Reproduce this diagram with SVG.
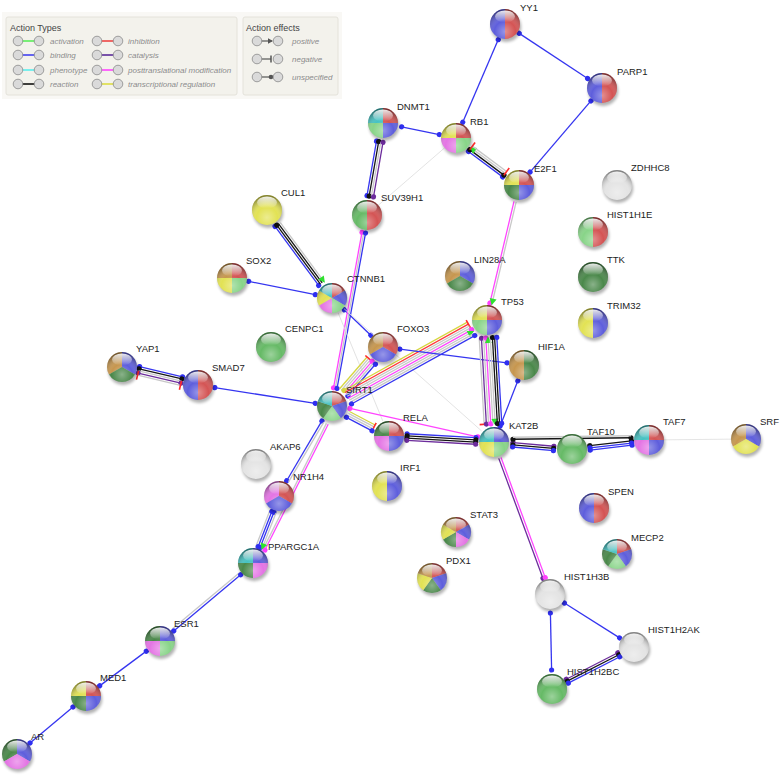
<svg xmlns="http://www.w3.org/2000/svg" xmlns:xlink="http://www.w3.org/1999/xlink" width="780" height="775" viewBox="0 0 780 775">
<style>
.e line{stroke-width:1.3;fill:none}
.b{stroke:#3535f0;marker-start:url(#dB);marker-end:url(#dB)}
.k{stroke:#151515;marker-start:url(#dK);marker-end:url(#dK)}
.p{stroke:#6c2c9c;marker-start:url(#dP);marker-end:url(#dP)}
.m{stroke:#ff45ff;marker-start:url(#dM);marker-end:url(#dM)}
.y{stroke:#d6d640}
.r{stroke:#ff3a3a}
.g{stroke:#c8c8c8}
.e line.f{stroke:#dedede;stroke-width:.8}
.cR{fill:#d45454}.cB{fill:#5e5edc}.cLG{fill:#88d488}.cDG{fill:#4a884a}.cY{fill:#e2e254}
.cT{fill:#46c2c2}.cM{fill:#e474e4}.cN{fill:#c6964e}.cW{fill:#e4e4e4}.cG{fill:#66ba66}
.lbl{font-family:"Liberation Sans",Arial,sans-serif;font-size:9.5px;fill:#222}
.lh{font-family:"Liberation Sans",Arial,sans-serif;font-size:9px;fill:#444}
.li{font-family:"Liberation Sans",Arial,sans-serif;font-size:8px;font-style:italic;fill:#8c8c8c}
.ic{fill:#dadada;stroke:#8a8a8a;stroke-width:.8}
</style>
<defs>
<filter id="blur" x="-50%" y="-50%" width="200%" height="200%"><feGaussianBlur stdDeviation="1.4"/></filter>
<radialGradient id="shade" cx="50%" cy="75%" r="70%">
<stop offset="0" stop-color="#fff" stop-opacity=".35"/>
<stop offset=".5" stop-color="#fff" stop-opacity="0"/>
<stop offset="1" stop-color="#000" stop-opacity=".42"/>
</radialGradient>
<linearGradient id="hl" x1="0" y1="0" x2="0" y2="1">
<stop offset="0" stop-color="#fff" stop-opacity=".9"/>
<stop offset="1" stop-color="#fff" stop-opacity="0"/>
</linearGradient>
<circle id="sh" cx="1.2" cy="3" r="15" fill="#000" opacity=".3" filter="url(#blur)"/>
<g id="gl"><circle r="15" fill="url(#shade)"/><ellipse cx="0" cy="-7.5" rx="10" ry="6" fill="url(#hl)"/></g>
<circle id="c" r="15"/>
<path id="hL" d="M0,0L0,-15A15,15 0 0 0 0,15Z"/>
<path id="hR" d="M0,0L0,-15A15,15 0 0 1 0,15Z"/>
<path id="qTL" d="M0,0L0,-15A15,15 0 0 0 -15,0Z"/>
<path id="qTR" d="M0,0L0,-15A15,15 0 0 1 15,0Z"/>
<path id="qBR" d="M0,0L15,0A15,15 0 0 1 0,15Z"/>
<path id="qBL" d="M0,0L0,15A15,15 0 0 1 -15,0Z"/>
<path id="t1" d="M0,0L0,-15A15,15 0 0 1 12.99,7.5Z"/>
<path id="t2" d="M0,0L12.99,7.5A15,15 0 0 1 -12.99,7.5Z"/>
<path id="t3" d="M0,0L-12.99,7.5A15,15 0 0 1 0,-15Z"/>
<path id="f1" d="M0,0L0,-15A15,15 0 0 1 14.27,-4.64Z"/>
<path id="f2" d="M0,0L14.27,-4.64A15,15 0 0 1 8.82,12.14Z"/>
<path id="f3" d="M0,0L8.82,12.14A15,15 0 0 1 -8.82,12.14Z"/>
<path id="f4" d="M0,0L-8.82,12.14A15,15 0 0 1 -14.27,-4.64Z"/>
<path id="f5" d="M0,0L-14.27,-4.64A15,15 0 0 1 0,-15Z"/>
<path id="s1" d="M0,0L0,-15A15,15 0 0 1 12.99,-7.5Z"/>
<path id="s2" d="M0,0L12.99,-7.5A15,15 0 0 1 12.99,7.5Z"/>
<path id="s3" d="M0,0L12.99,7.5A15,15 0 0 1 0,15Z"/>
<path id="s4" d="M0,0L0,15A15,15 0 0 1 -12.99,7.5Z"/>
<path id="s5" d="M0,0L-12.99,7.5A15,15 0 0 1 -12.99,-7.5Z"/>
<path id="s6" d="M0,0L-12.99,-7.5A15,15 0 0 1 0,-15Z"/>
<marker id="dB" viewBox="-3 -3 6 6" markerWidth="6" markerHeight="6" markerUnits="userSpaceOnUse"><circle r="2.6" fill="#2f2ff0"/></marker>
<marker id="dK" viewBox="-3 -3 6 6" markerWidth="6" markerHeight="6" markerUnits="userSpaceOnUse"><circle r="2.6" fill="#111"/></marker>
<marker id="dP" viewBox="-3 -3 6 6" markerWidth="6" markerHeight="6" markerUnits="userSpaceOnUse"><circle r="2.6" fill="#6c2c9c"/></marker>
<marker id="dM" viewBox="-3 -3 6 6" markerWidth="6" markerHeight="6" markerUnits="userSpaceOnUse"><circle r="2.6" fill="#ff40ff"/></marker>
<marker id="dY" viewBox="-3 -3 6 6" markerWidth="6" markerHeight="6" markerUnits="userSpaceOnUse"><circle r="2.6" fill="#d6d640"/></marker>
<marker id="arG" viewBox="-6 -4 8 8" markerWidth="8" markerHeight="8" markerUnits="userSpaceOnUse" orient="auto-start-reverse"><path d="M-5,-3.5L1.5,0L-5,3.5Z" fill="#2fe02f"/></marker>
<marker id="brR" viewBox="-2 -5 4 10" markerWidth="4" markerHeight="10" markerUnits="userSpaceOnUse" orient="auto"><path d="M0,-4.5V4.5" stroke="#ff2a2a" stroke-width="1.6"/></marker>
<marker id="arK" viewBox="-6 -4 8 8" markerWidth="8" markerHeight="8" markerUnits="userSpaceOnUse" orient="auto"><path d="M-4,-2.8L1,0L-4,2.8Z" fill="#555"/></marker>
<marker id="brK" viewBox="-2 -5 4 10" markerWidth="4" markerHeight="10" markerUnits="userSpaceOnUse" orient="auto"><path d="M0,-3.5V3.5" stroke="#555" stroke-width="1.5"/></marker>
<marker id="dL" viewBox="-3 -3 6 6" markerWidth="6" markerHeight="6" markerUnits="userSpaceOnUse"><circle r="2.3" fill="#555"/></marker>
</defs>

<g id="legend">
<rect x="2" y="12" width="340" height="87" fill="#f9f8f5"/>
<rect x="6" y="17" width="231" height="78" rx="2" fill="#f3f2ec" stroke="#e4e2da"/>
<rect x="243" y="17" width="95" height="78" rx="2" fill="#f3f2ec" stroke="#e4e2da"/>
<text class="lh" x="10" y="31">Action Types</text>
<text class="lh" x="246" y="31">Action effects</text>
<g stroke-width="1.6">
<line x1="22" y1="41" x2="35" y2="41" stroke="#5aee5a"/>
<line x1="22" y1="55" x2="35" y2="55" stroke="#4040f0"/>
<line x1="22" y1="70" x2="35" y2="70" stroke="#5aeeee"/>
<line x1="22" y1="84" x2="35" y2="84" stroke="#111"/>
<line x1="101" y1="41" x2="114" y2="41" stroke="#ee4444"/>
<line x1="101" y1="55" x2="114" y2="55" stroke="#5a2a9a"/>
<line x1="101" y1="70" x2="114" y2="70" stroke="#ff44ff"/>
<line x1="101" y1="84" x2="114" y2="84" stroke="#dddd44"/>
</g>
<g class="ic">
<circle cx="18" cy="41" r="4.8"/><circle cx="39" cy="41" r="4.8"/>
<circle cx="18" cy="55" r="4.8"/><circle cx="39" cy="55" r="4.8"/>
<circle cx="18" cy="70" r="4.8"/><circle cx="39" cy="70" r="4.8"/>
<circle cx="18" cy="84" r="4.8"/><circle cx="39" cy="84" r="4.8"/>
<circle cx="97" cy="41" r="4.8"/><circle cx="118" cy="41" r="4.8"/>
<circle cx="97" cy="55" r="4.8"/><circle cx="118" cy="55" r="4.8"/>
<circle cx="97" cy="70" r="4.8"/><circle cx="118" cy="70" r="4.8"/>
<circle cx="97" cy="84" r="4.8"/><circle cx="118" cy="84" r="4.8"/>
</g>
<g stroke="#555" stroke-width="1.2">
<line x1="261" y1="41" x2="272" y2="41" marker-end="url(#arK)"/>
<line x1="261" y1="59" x2="271" y2="59" marker-end="url(#brK)"/>
<line x1="261" y1="77" x2="271" y2="77" marker-end="url(#dL)"/>
</g>
<g class="ic">
<circle cx="257" cy="41" r="4.8"/><circle cx="278" cy="41" r="4.8"/>
<circle cx="257" cy="59" r="4.8"/><circle cx="278" cy="59" r="4.8"/>
<circle cx="257" cy="77" r="4.8"/><circle cx="278" cy="77" r="4.8"/>
</g>
<text class="li" x="50" y="44">activation</text>
<text class="li" x="50" y="58">binding</text>
<text class="li" x="50" y="73">phenotype</text>
<text class="li" x="50" y="87">reaction</text>
<text class="li" x="128" y="44">inhibition</text>
<text class="li" x="128" y="58">catalysis</text>
<text class="li" x="128" y="73">posttranslational modification</text>
<text class="li" x="128" y="87">transcriptional regulation</text>
<text class="li" x="292" y="44">positive</text>
<text class="li" x="292" y="62">negative</text>
<text class="li" x="292" y="80">unspecified</text>
</g>

<g id="edges" class="e">
<g transform="translate(505,24) rotate(113.26)"><line class="b" x1="17" x2="107"/></g>
<g transform="translate(505,24) rotate(33.42)"><line class="b" x1="17" x2="99"/></g>
<g transform="translate(602,88) rotate(130.55)"><line class="b" x1="17" x2="110.7"/></g>
<g transform="translate(383,123) rotate(11.61)"><line class="b" x1="19" x2="57.5"/></g>
<g transform="translate(383,123) rotate(99.87)">
<line class="b" x1="19" x2="74.4" y1="3.3" y2="3.3"/>
<line class="k" x1="19" x2="74.4" y1="1.1" y2="1.1"/>
<line class="g" x1="19" x2="74.4" y1="-1.1" y2="-1.1"/>
<line class="p" x1="19" x2="74.4" y1="-3.3" y2="-3.3"/>
</g>
<g transform="translate(456,138) rotate(36.72)">
<line class="b" x1="18" x2="60.6" y1="3.3" y2="3.3"/>
<line class="k" x1="18" x2="60.6" y1="1.1" y2="1.1"/>
<line class="g" x1="18" x2="60.6" y1="-1.1" y2="-1.1" style="marker-start:url(#arG)"/>
<line class="g" x1="18" x2="60.6" y1="-3.3" y2="-3.3" style="marker-start:url(#brR);marker-end:url(#brR)"/>
</g>
<g transform="translate(456,138) rotate(139.13)"><line class="f" x1="15" x2="102.7"/></g>
<g transform="translate(519,185) rotate(103.33)">
<line class="m" x1="17" x2="121.7" y1="1.1" y2="1.1" style="marker-start:none"/>
<line class="g" x1="17" x2="121.7" y1="-1.1" y2="-1.1" style="marker-end:url(#arG)"/>
</g>
<g transform="translate(267,210) rotate(53.55)">
<line class="b" x1="18" x2="91.4" y1="3.3" y2="3.3"/>
<line class="k" x1="18" x2="91.4" y1="1.1" y2="1.1" style="marker-end:none"/>
<line class="k" x1="18" x2="91.4" y1="-1.1" y2="-1.1" style="marker-start:none;marker-end:none"/>
<line class="g" x1="18" x2="91.4" y1="-3.3" y2="-3.3" style="marker-end:url(#arG)"/>
</g>
<g transform="translate(232,278) rotate(11.31)"><line class="b" x1="17" x2="85"/></g>
<g transform="translate(332,298) rotate(43.85)"><line class="b" x1="17" x2="53.7"/></g>
<g transform="translate(367,215) rotate(100.38)">
<line class="m" x1="18" x2="176" y1="1.8" y2="1.8"/>
<line class="g" x1="18" x2="176" y1="0" y2="0"/>
<line class="b" x1="18" x2="176" y1="-1.8" y2="-1.8"/>
</g>
<g transform="translate(332,298) rotate(67.56)"><line class="f" x1="16" x2="133"/></g>
<g transform="translate(332,298) rotate(41.63)"><line class="f" x1="16" x2="200"/></g>
<g transform="translate(122,367) rotate(13.32)">
<line class="b" x1="17" x2="61.1" y1="-4.4" y2="-4.4"/>
<line class="k" x1="17" x2="61.1" y1="-2.2" y2="-2.2"/>
<line class="g" x1="17" x2="61.1" y1="0" y2="0"/>
<line class="p" x1="17" x2="61.1" y1="2.2" y2="2.2"/>
<line class="g" x1="17" x2="61.1" y1="4.4" y2="4.4" style="marker-start:url(#brR);marker-end:url(#brR)"/>
</g>
<g transform="translate(198,385) rotate(8.91)"><line class="b" x1="17" x2="118.6"/></g>
<g transform="translate(332,406) rotate(-49.16)">
<line class="y" x1="18" x2="60" y1="-5.5" y2="-5.5"/>
<line class="g" x1="18" x2="60" y1="-3.3" y2="-3.3" style="marker-end:url(#brR)"/>
<line class="g" x1="18" x2="60" y1="-1.1" y2="-1.1"/>
<line class="m" x1="18" x2="60" y1="1.1" y2="1.1" style="marker-start:none"/>
<line class="g" x1="18" x2="60" y1="3.3" y2="3.3"/>
<line class="b" x1="18" x2="60" y1="5.5" y2="5.5"/>
</g>
<g transform="translate(332,406) rotate(-29.02)">
<line class="y" x1="18" x2="159" y1="-7.7" y2="-7.7" style="marker-start:url(#dY)"/>
<line class="r" x1="18" x2="159" y1="-5.5" y2="-5.5" style="marker-end:url(#brR)"/>
<line class="g" x1="18" x2="159" y1="-3.3" y2="-3.3"/>
<line class="g" x1="18" x2="159" y1="-1.1" y2="-1.1"/>
<line class="m" x1="18" x2="159" y1="1.1" y2="1.1" style="marker-start:none"/>
<line class="g" x1="18" x2="159" y1="3.3" y2="3.3" style="marker-end:url(#arG)"/>
<line class="g" x1="18" x2="159" y1="5.5" y2="5.5"/>
<line class="b" x1="18" x2="159" y1="7.7" y2="7.7"/>
</g>
<g transform="translate(332,406) rotate(27.76)">
<line class="y" x1="18" x2="47" y1="-3.3" y2="-3.3"/>
<line class="g" x1="18" x2="47" y1="-1.1" y2="-1.1" style="marker-end:url(#brR)"/>
<line class="g" x1="18" x2="47" y1="1.1" y2="1.1"/>
<line class="b" x1="18" x2="47" y1="3.3" y2="3.3"/>
</g>
<g transform="translate(332,406) rotate(12.53)"><line class="m" x1="18" x2="149" y1="-1.5" y2="-1.5"/></g>
<g transform="translate(389,436) rotate(3.27)">
<line class="b" x1="18" x2="87" y1="-3.3" y2="-3.3"/>
<line class="k" x1="18" x2="87" y1="-1.1" y2="-1.1"/>
<line class="k" x1="18" x2="87" y1="1.1" y2="1.1"/>
<line class="p" x1="18" x2="87" y1="3.3" y2="3.3"/>
</g>
<g transform="translate(383,347) rotate(7.27)"><line class="b" x1="17" x2="125"/></g>
<g transform="translate(524,365) rotate(111.29)"><line class="b" x1="17" x2="65.6"/></g>
<g transform="translate(487,320) rotate(86.72)">
<line class="g" x1="18" x2="104" y1="8.8" y2="8.8" style="marker-end:url(#brR)"/>
<line class="p" x1="18" x2="104" y1="6.6" y2="6.6"/>
<line class="g" x1="18" x2="104" y1="4.4" y2="4.4"/>
<line class="m" x1="18" x2="104" y1="2.2" y2="2.2"/>
<line class="g" x1="18" x2="104" y1="0" y2="0" style="marker-start:url(#arG)"/>
<line class="g" x1="18" x2="104" y1="-2.2" y2="-2.2" style="marker-end:url(#arG)"/>
<line class="k" x1="18" x2="104" y1="-4.4" y2="-4.4"/>
<line class="k" x1="18" x2="104" y1="-6.6" y2="-6.6" style="marker-start:none;marker-end:none"/>
<line class="b" x1="18" x2="104" y1="-8.8" y2="-8.8"/>
</g>
<g transform="translate(494,442) rotate(5.13)">
<line class="p" x1="19" x2="60" y1="-1.1" y2="-1.1"/>
<line class="k" x1="19" x2="60" y1="1.1" y2="1.1"/>
<line class="b" x1="19" x2="60" y1="3.3" y2="3.3"/>
</g>
<g transform="translate(494,442) rotate(-0.74)">
<line class="k" x1="19" x2="137" y1="-2.5" y2="-2.5"/>
<line class="g" x1="19" x2="137" y1="-4.5" y2="-4.5"/>
</g>
<g transform="translate(572,449) rotate(-6.67)">
<line class="k" x1="18" x2="60" y1="-1.2" y2="-1.2"/>
<line class="b" x1="18" x2="60" y1="1" y2="1"/>
<line class="b" x1="18" x2="60" y1="3.2" y2="3.2"/>
</g>
<g transform="translate(649,440) rotate(-0.59)"><line class="f" x1="15" x2="82"/></g>
<g transform="translate(494,442) rotate(69.77)">
<line class="p" x1="17" x2="145" y1="1.2" y2="1.2" style="marker-start:none"/>
<line class="m" x1="17" x2="145" y1="-1.2" y2="-1.2" style="marker-start:none"/>
</g>
<g transform="translate(550,594) rotate(32.25)"><line class="b" x1="17" x2="82.3"/></g>
<g transform="translate(550,594) rotate(88.79)"><line class="b" x1="19" x2="76"/></g>
<g transform="translate(634,647) rotate(152.88)">
<line class="p" x1="17" x2="75" y1="2.2" y2="2.2"/>
<line class="k" x1="17" x2="75" y1="0" y2="0"/>
<line class="b" x1="17" x2="75" y1="-2.2" y2="-2.2"/>
</g>
<g transform="translate(332,406) rotate(120.5)">
<line class="b" x1="18" x2="87.4" y1="1.1" y2="1.1"/>
<line class="g" x1="18" x2="87.4" y1="-1.1" y2="-1.1"/>
</g>
<g transform="translate(332,406) rotate(116.71)">
<line class="g" x1="18" x2="158.8" y1="-2.8" y2="-2.8"/>
<line class="m" x1="18" x2="158.8" y1="-4.8" y2="-4.8" style="marker-start:none"/>
</g>
<g transform="translate(279,496) rotate(111.21)">
<line class="g" x1="17" x2="54.9" y1="3.3" y2="3.3"/>
<line class="b" x1="17" x2="54.9" y1="1.1" y2="1.1"/>
<line class="b" x1="17" x2="54.9" y1="-1.1" y2="-1.1"/>
<line class="g" x1="17" x2="54.9" y1="-3.3" y2="-3.3" style="marker-end:url(#arG)"/>
</g>
<g transform="translate(253,563) rotate(140.01)">
<line class="g" x1="17" x2="104.4" y1="1.3" y2="1.3"/>
<line class="b" x1="17" x2="104.4" y1="-1.1" y2="-1.1"/>
</g>
<g transform="translate(160,641) rotate(143.38)"><line class="b" x1="17" x2="75.2"/></g>
<g transform="translate(86,696) rotate(139.95)"><line class="b" x1="17" x2="73.1"/></g>
</g>

<g id="nodes">
<g id="n-YY1" transform="translate(505,24)"><use href="#sh"/><use href="#hL" class="cB"/><use href="#hR" class="cR"/><use href="#gl"/><text class="lbl" x="15" y="-13">YY1</text></g>
<g id="n-PARP1" transform="translate(602,88)"><use href="#sh"/><use href="#hL" class="cB"/><use href="#hR" class="cR"/><use href="#gl"/><text class="lbl" x="15" y="-13">PARP1</text></g>
<g id="n-RB1" transform="translate(456,138)"><use href="#sh"/><use href="#qTL" class="cY"/><use href="#qTR" class="cR"/><use href="#qBL" class="cM"/><use href="#qBR" class="cLG"/><use href="#gl"/><text class="lbl" x="14" y="-13">RB1</text></g>
<g id="n-DNMT1" transform="translate(383,123)"><use href="#sh"/><use href="#qTL" class="cT"/><use href="#qTR" class="cR"/><use href="#qBL" class="cLG"/><use href="#qBR" class="cB"/><use href="#gl"/><text class="lbl" x="14" y="-13">DNMT1</text></g>
<g id="n-E2F1" transform="translate(519,185)"><use href="#sh"/><use href="#qTL" class="cY"/><use href="#qTR" class="cR"/><use href="#qBL" class="cDG"/><use href="#qBR" class="cB"/><use href="#gl"/><text class="lbl" x="15" y="-13">E2F1</text></g>
<g id="n-SUV39H1" transform="translate(367,215)"><use href="#sh"/><use href="#hL" class="cG"/><use href="#hR" class="cR"/><use href="#gl"/><text class="lbl" x="14" y="-14">SUV39H1</text></g>
<g id="n-CUL1" transform="translate(267,210)"><use href="#sh"/><use href="#c" class="cY"/><use href="#gl"/><text class="lbl" x="14" y="-14">CUL1</text></g>
<g id="n-SOX2" transform="translate(232,278)"><use href="#sh"/><use href="#qTL" class="cN"/><use href="#qTR" class="cR"/><use href="#qBL" class="cY"/><use href="#qBR" class="cLG"/><use href="#gl"/><text class="lbl" x="14" y="-14">SOX2</text></g>
<g id="n-CTNNB1" transform="translate(332,298)"><use href="#sh"/><use href="#s1" class="cR"/><use href="#s2" class="cB"/><use href="#s3" class="cLG"/><use href="#s4" class="cM"/><use href="#s5" class="cY"/><use href="#s6" class="cT"/><use href="#gl"/><text class="lbl" x="15" y="-16">CTNNB1</text></g>
<g id="n-LIN28A" transform="translate(460,276)"><use href="#sh"/><use href="#t3" class="cN"/><use href="#t1" class="cB"/><use href="#t2" class="cDG"/><use href="#gl"/><text class="lbl" x="14" y="-13">LIN28A</text></g>
<g id="n-CENPC1" transform="translate(271,347)"><use href="#sh"/><use href="#c" class="cG"/><use href="#gl"/><text class="lbl" x="14" y="-15">CENPC1</text></g>
<g id="n-YAP1" transform="translate(122,367)"><use href="#sh"/><use href="#t3" class="cN"/><use href="#t1" class="cB"/><use href="#t2" class="cDG"/><use href="#gl"/><text class="lbl" x="14" y="-15">YAP1</text></g>
<g id="n-SMAD7" transform="translate(198,385)"><use href="#sh"/><use href="#hL" class="cB"/><use href="#hR" class="cR"/><use href="#gl"/><text class="lbl" x="14" y="-14">SMAD7</text></g>
<g id="n-SIRT1" transform="translate(332,406)"><use href="#sh"/><use href="#f1" class="cR"/><use href="#f2" class="cB"/><use href="#f3" class="cLG"/><use href="#f4" class="cDG"/><use href="#f5" class="cT"/><use href="#gl"/><text class="lbl" x="14" y="-13">SIRT1</text></g>
<g id="n-FOXO3" transform="translate(383,347)"><use href="#sh"/><use href="#t3" class="cN"/><use href="#t1" class="cR"/><use href="#t2" class="cB"/><use href="#gl"/><text class="lbl" x="14" y="-15">FOXO3</text></g>
<g id="n-TP53" transform="translate(487,320)"><use href="#sh"/><use href="#qTL" class="cY"/><use href="#qTR" class="cR"/><use href="#qBL" class="cLG"/><use href="#qBR" class="cB"/><use href="#gl"/><text class="lbl" x="14" y="-15">TP53</text></g>
<g id="n-HIF1A" transform="translate(524,365)"><use href="#sh"/><use href="#hL" class="cN"/><use href="#hR" class="cDG"/><use href="#gl"/><text class="lbl" x="14" y="-15">HIF1A</text></g>
<g id="n-RELA" transform="translate(389,436)"><use href="#sh"/><use href="#qTL" class="cDG"/><use href="#qTR" class="cR"/><use href="#qBL" class="cM"/><use href="#qBR" class="cB"/><use href="#gl"/><text class="lbl" x="14" y="-15">RELA</text></g>
<g id="n-KAT2B" transform="translate(494,442)"><use href="#sh"/><use href="#qTL" class="cT"/><use href="#qTR" class="cB"/><use href="#qBL" class="cY"/><use href="#qBR" class="cLG"/><use href="#gl"/><text class="lbl" x="15" y="-13">KAT2B</text></g>
<g id="n-TAF10" transform="translate(572,449)"><use href="#sh"/><use href="#c" class="cG"/><use href="#gl"/><text class="lbl" x="15" y="-14">TAF10</text></g>
<g id="n-TAF7" transform="translate(649,440)"><use href="#sh"/><use href="#qTL" class="cT"/><use href="#qTR" class="cR"/><use href="#qBL" class="cM"/><use href="#qBR" class="cB"/><use href="#gl"/><text class="lbl" x="14" y="-15">TAF7</text></g>
<g id="n-SRF" transform="translate(746,439)"><use href="#sh"/><use href="#t3" class="cN"/><use href="#t1" class="cB"/><use href="#t2" class="cY"/><use href="#gl"/><text class="lbl" x="14" y="-14">SRF</text></g>
<g id="n-AKAP6" transform="translate(256,464)"><use href="#sh"/><use href="#c" class="cW"/><use href="#gl"/><text class="lbl" x="14" y="-14">AKAP6</text></g>
<g id="n-IRF1" transform="translate(387,486)"><use href="#sh"/><use href="#hL" class="cY"/><use href="#hR" class="cB"/><use href="#gl"/><text class="lbl" x="13" y="-15">IRF1</text></g>
<g id="n-NR1H4" transform="translate(279,496)"><use href="#sh"/><use href="#t3" class="cM"/><use href="#t1" class="cR"/><use href="#t2" class="cB"/><use href="#gl"/><text class="lbl" x="14" y="-16">NR1H4</text></g>
<g id="n-PPARGC1A" transform="translate(253,563)"><use href="#sh"/><use href="#qTL" class="cT"/><use href="#qTR" class="cB"/><use href="#qBL" class="cDG"/><use href="#qBR" class="cM"/><use href="#gl"/><text class="lbl" x="15" y="-13">PPARGC1A</text></g>
<g id="n-STAT3" transform="translate(456,532)"><use href="#sh"/><use href="#s1" class="cR"/><use href="#s2" class="cB"/><use href="#s3" class="cM"/><use href="#s4" class="cDG"/><use href="#s5" class="cY"/><use href="#s6" class="cN"/><use href="#gl"/><text class="lbl" x="14" y="-14">STAT3</text></g>
<g id="n-PDX1" transform="translate(432,578)"><use href="#sh"/><use href="#f1" class="cR"/><use href="#f2" class="cB"/><use href="#f3" class="cDG"/><use href="#f4" class="cY"/><use href="#f5" class="cN"/><use href="#gl"/><text class="lbl" x="14" y="-14">PDX1</text></g>
<g id="n-SPEN" transform="translate(594,508)"><use href="#sh"/><use href="#hL" class="cB"/><use href="#hR" class="cR"/><use href="#gl"/><text class="lbl" x="14" y="-13">SPEN</text></g>
<g id="n-MECP2" transform="translate(617,554)"><use href="#sh"/><use href="#f1" class="cR"/><use href="#f2" class="cB"/><use href="#f3" class="cLG"/><use href="#f4" class="cDG"/><use href="#f5" class="cT"/><use href="#gl"/><text class="lbl" x="14" y="-13">MECP2</text></g>
<g id="n-HIST1H3B" transform="translate(550,594)"><use href="#sh"/><use href="#c" class="cW"/><use href="#gl"/><text class="lbl" x="14" y="-14">HIST1H3B</text></g>
<g id="n-HIST1H2AK" transform="translate(634,647)"><use href="#sh"/><use href="#c" class="cW"/><use href="#gl"/><text class="lbl" x="14" y="-14">HIST1H2AK</text></g>
<g id="n-HIST1H2BC" transform="translate(552,689)"><use href="#sh"/><use href="#c" class="cG"/><use href="#gl"/><text class="lbl" x="15" y="-14">HIST1H2BC</text></g>
<g id="n-ZDHHC8" transform="translate(617,185)"><use href="#sh"/><use href="#c" class="cW"/><use href="#gl"/><text class="lbl" x="14" y="-14">ZDHHC8</text></g>
<g id="n-HIST1H1E" transform="translate(593,232)"><use href="#sh"/><use href="#hL" class="cLG"/><use href="#hR" class="cR"/><use href="#gl"/><text class="lbl" x="14" y="-14">HIST1H1E</text></g>
<g id="n-TTK" transform="translate(593,277)"><use href="#sh"/><use href="#c" class="cDG"/><use href="#gl"/><text class="lbl" x="14" y="-14">TTK</text></g>
<g id="n-TRIM32" transform="translate(593,323)"><use href="#sh"/><use href="#hL" class="cY"/><use href="#hR" class="cB"/><use href="#gl"/><text class="lbl" x="14" y="-14">TRIM32</text></g>
<g id="n-ESR1" transform="translate(160,641)"><use href="#sh"/><use href="#qTL" class="cDG"/><use href="#qTR" class="cB"/><use href="#qBL" class="cM"/><use href="#qBR" class="cLG"/><use href="#gl"/><text class="lbl" x="14" y="-14">ESR1</text></g>
<g id="n-MED1" transform="translate(86,696)"><use href="#sh"/><use href="#qTL" class="cY"/><use href="#qTR" class="cR"/><use href="#qBL" class="cDG"/><use href="#qBR" class="cB"/><use href="#gl"/><text class="lbl" x="14" y="-15">MED1</text></g>
<g id="n-AR" transform="translate(17,754)"><use href="#sh"/><use href="#t3" class="cDG"/><use href="#t1" class="cB"/><use href="#t2" class="cM"/><use href="#gl"/><text class="lbl" x="14" y="-14">AR</text></g>
</g>
</svg>
